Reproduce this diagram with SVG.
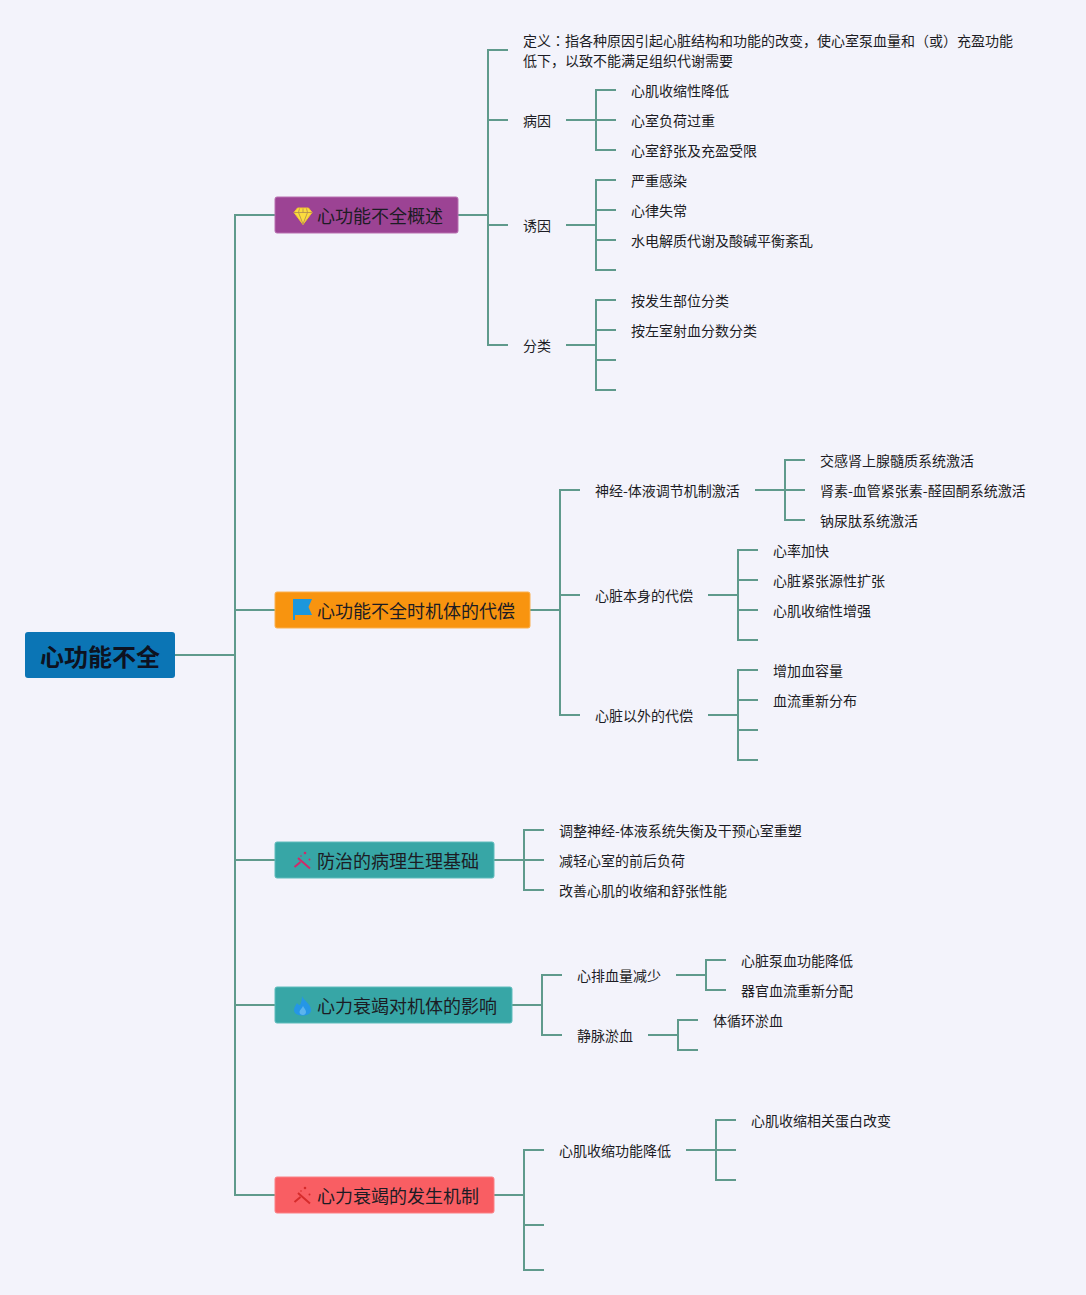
<svg xmlns="http://www.w3.org/2000/svg" width="1086" height="1295" viewBox="0 0 1086 1295">
<style>
text{font-family:"Noto Sans CJK SC","Liberation Sans",sans-serif;fill:#1c1c24}
.l{font-size:14px}
.m{font-size:18px}
.r{font-size:24px;font-weight:700;fill:#0d1220}
.c{fill:none;stroke:#5f9a8c;stroke-width:2}
.b{stroke-width:1;rx:2}
.tc{font-family:"Noto Sans CJK TC",sans-serif}
</style>
<rect width="1086" height="1295" fill="#f3f3fb"/>
<g id="connectors" class="c">
<path d="M175 655H235M275 215H235V1195H275M235 610H275M235 860H275M235 1005H275"/>
<path d="M458 215H488M508 50H488V345H508M488 120H508M488 225H508"/>
<path d="M566 120H596M616 90H596V150H616M596 120H616"/>
<path d="M566 225H596M616 180H596V270H616M596 210H616M596 240H616"/>
<path d="M566 345H596M616 300H596V390H616M596 330H616M596 360H616"/>
<path d="M530 610H560M580 490H560V715H580M560 595H580"/>
<path d="M755 490H785M805 460H785V520H805M785 490H805"/>
<path d="M708 595H738M758 550H738V640H758M738 580H758M738 610H758"/>
<path d="M708 715H738M758 670H738V760H758M738 700H758M738 730H758"/>
<path d="M494 860H524M544 830H524V890H544M524 860H544"/>
<path d="M512 1005H542M562 975H542V1035H562"/>
<path d="M676 975H706M726 960H706V990H726"/>
<path d="M648 1035H678M698 1020H678V1050H698"/>
<path d="M494 1195H524M544 1150H524V1270H544M524 1225H544"/>
<path d="M686 1150H716M736 1120H716V1180H736M716 1150H736"/>
</g>
<g id="root"><rect x="25" y="632" width="150" height="46" rx="3" fill="#0b75b5"/><text class="r" x="40" y="666">心功能不全</text></g>
<g id="n1"><rect class="b" x="275" y="197" width="183" height="36" fill="#9c4394" stroke="#b870b0"/>
<path d="M297.500 208H308.500L312 212.500L303 224.500L294 212.500Z" fill="#fbdc3e" stroke="#f3c52e"/><path d="M294 212.500H312M299.500 208.500L298.500 212.500L303 224L307.500 212.500L306.500 208.500M303 208.500V212.500" fill="none" stroke="#b08a50" stroke-width=".8"/>
<text class="m" x="317" y="223">心功能不全概述</text></g>
<g id="n2"><rect class="b" x="275" y="592" width="255" height="36" fill="#f8940f" stroke="#fbb04e"/>
<path d="M293 599H312L308.500 607L312 615H295V620H293Z" fill="#1c97dc"/>
<text class="m" x="317" y="618">心功能不全时机体的代偿</text></g>
<g id="n3"><rect class="b" x="275" y="842" width="219" height="36" fill="#37a6a6" stroke="#5fbcbc"/>
<path d="M298 858L310 868.500M294.500 867L300.500 862" fill="none" stroke="#d02a6a" stroke-width="2"/><circle cx="305" cy="853" r="1.300" fill="#d02a6a"/><circle cx="309.500" cy="859.500" r="1" fill="#d02a6a"/><circle cx="301" cy="856" r=".8" fill="#d02a6a"/>
<text class="m" x="317" y="868">防治的病理生理基础</text></g>
<g id="n4"><rect class="b" x="275" y="987" width="237" height="36" fill="#37a6a6" stroke="#5fbcbc"/>
<path d="M302 996C303 1000 311 1004 311 1010C311 1014 307 1015.500 303 1015.500C298 1015.500 294 1014 294 1010C294 1007 296 1005 297 1003C298 1004.500 299 1005 300 1005C301.500 1002 302 999 302 996Z" fill="#2596e6"/><path d="M303 1006C304 1008 306 1010 306 1012C306 1014 304.500 1015 303 1015C301 1015 299.500 1014 299.500 1012C299.500 1010 302 1008.500 303 1006Z" fill="#5cb4ee"/>
<text class="m" x="317" y="1013">心力衰竭对机体的影响</text></g>
<g id="n5"><rect class="b" x="275" y="1177" width="219" height="36" fill="#f95e63" stroke="#fb8085"/>
<path d="M298 1193L310 1203.500M294.500 1202L300.500 1197" fill="none" stroke="#d62c2c" stroke-width="2"/><circle cx="305" cy="1188" r="1.300" fill="#d62c2c"/><circle cx="309.500" cy="1194.500" r="1" fill="#d62c2c"/><circle cx="301" cy="1191" r=".8" fill="#d62c2c"/>
<text class="m" x="317" y="1203">心力衰竭的发生机制</text></g>
<g id="t1"><text class="l" x="523" y="46">定义<tspan class="tc">：</tspan>指各种原因引起心脏结构和功能的改变，使心室泵血量和（或）充盈功能</text><text class="l" x="523" y="66">低下，以致不能满足组织代谢需要</text></g>
<g id="t2"><text class="l" x="523" y="126">病因</text></g>
<g id="t3"><text class="l" x="631" y="96">心肌收缩性降低</text></g>
<g id="t4"><text class="l" x="631" y="126">心室负荷过重</text></g>
<g id="t5"><text class="l" x="631" y="156">心室舒张及充盈受限</text></g>
<g id="t6"><text class="l" x="523" y="231">诱因</text></g>
<g id="t7"><text class="l" x="631" y="186">严重感染</text></g>
<g id="t8"><text class="l" x="631" y="216">心律失常</text></g>
<g id="t9"><text class="l" x="631" y="246">水电解质代谢及酸碱平衡紊乱</text></g>
<g id="t10"><text class="l" x="523" y="351">分类</text></g>
<g id="t11"><text class="l" x="631" y="306">按发生部位分类</text></g>
<g id="t12"><text class="l" x="631" y="336">按左室射血分数分类</text></g>
<g id="t13"><text class="l" x="595" y="496">神经-体液调节机制激活</text></g>
<g id="t14"><text class="l" x="820" y="466">交感肾上腺髓质系统激活</text></g>
<g id="t15"><text class="l" x="820" y="496">肾素-血管紧张素-醛固酮系统激活</text></g>
<g id="t16"><text class="l" x="820" y="526">钠尿肽系统激活</text></g>
<g id="t17"><text class="l" x="595" y="601">心脏本身的代偿</text></g>
<g id="t18"><text class="l" x="773" y="556">心率加快</text></g>
<g id="t19"><text class="l" x="773" y="586">心脏紧张源性扩张</text></g>
<g id="t20"><text class="l" x="773" y="616">心肌收缩性增强</text></g>
<g id="t21"><text class="l" x="595" y="721">心脏以外的代偿</text></g>
<g id="t22"><text class="l" x="773" y="676">增加血容量</text></g>
<g id="t23"><text class="l" x="773" y="706">血流重新分布</text></g>
<g id="t24"><text class="l" x="559" y="836">调整神经-体液系统失衡及干预心室重塑</text></g>
<g id="t25"><text class="l" x="559" y="866">减轻心室的前后负荷</text></g>
<g id="t26"><text class="l" x="559" y="896">改善心肌的收缩和舒张性能</text></g>
<g id="t27"><text class="l" x="577" y="981">心排血量减少</text></g>
<g id="t28"><text class="l" x="741" y="966">心脏泵血功能降低</text></g>
<g id="t29"><text class="l" x="741" y="996">器官血流重新分配</text></g>
<g id="t30"><text class="l" x="577" y="1041">静脉淤血</text></g>
<g id="t31"><text class="l" x="713" y="1026">体循环淤血</text></g>
<g id="t32"><text class="l" x="559" y="1156">心肌收缩功能降低</text></g>
<g id="t33"><text class="l" x="751" y="1126">心肌收缩相关蛋白改变</text></g>
</svg>
